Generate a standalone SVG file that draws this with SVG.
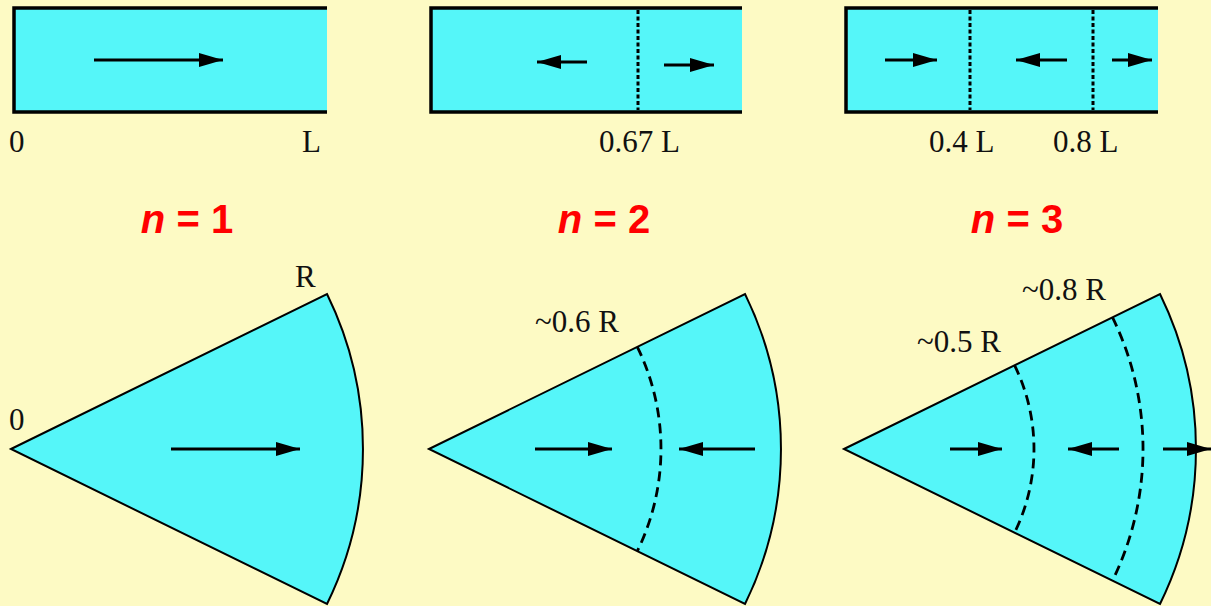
<svg xmlns="http://www.w3.org/2000/svg" width="1211" height="606" viewBox="0 0 1211 606">
<style>
.bg{fill:#FDFAC4}
.fill{fill:#55F6F9;stroke:none}
.edge{fill:none;stroke:#000;stroke-width:3.5;stroke-linecap:butt}
.sect{fill:#55F6F9;stroke:#000;stroke-width:2}
.dot{fill:none;stroke:#000;stroke-width:3;stroke-dasharray:4 2.5}
.dash{fill:none;stroke:#000;stroke-width:2.8;stroke-dasharray:10 6}
.arr{fill:none;stroke:#000;stroke-width:3.2;marker-end:url(#ah)}
.lbl{font-family:"Liberation Serif","Times New Roman",serif;font-size:31px;fill:#111}
.n{font-family:"Liberation Sans",Arial,sans-serif;font-size:40px;font-weight:bold;fill:#FF0000;text-anchor:middle}
</style>
<defs>
<marker id="ah" markerUnits="userSpaceOnUse" markerWidth="26" markerHeight="15" refX="24" refY="7" orient="auto">
<path d="M0,0 L24,7 L0,14 Z" fill="#000"/>
</marker>
</defs>
<rect class="bg" x="0" y="0" width="1211" height="606"/>

<g id="bar1">
<rect class="fill" x="14" y="8" width="313" height="104"/>
<polyline class="edge" points="327,8 14,8 14,112 327,112"/>
<text class="lbl" x="9" y="152">0</text>
<text class="lbl" x="302" y="152">L</text>
</g>

<g id="bar2">
<rect class="fill" x="431" y="8" width="311" height="104"/>
<polyline class="edge" points="742,8 431,8 431,112 742,112"/>
<line class="dot" x1="638" y1="10" x2="638" y2="110"/>
<text class="lbl" x="599" y="152">0.67 L</text>
</g>

<g id="bar3">
<rect class="fill" x="846" y="8" width="312" height="104"/>
<polyline class="edge" points="1158,8 846,8 846,112 1158,112"/>
<line class="dot" x1="970" y1="10" x2="970" y2="110"/>
<line class="dot" x1="1093" y1="10" x2="1093" y2="110"/>
<text class="lbl" x="929" y="152">0.4 L</text>
<text class="lbl" x="1053" y="152">0.8 L</text>
</g>

<g id="labels-n">
<text class="n" x="187" y="233"><tspan font-style="italic">n</tspan> = 1</text>
<text class="n" x="604" y="233"><tspan font-style="italic">n</tspan> = 2</text>
<text class="n" x="1017" y="233"><tspan font-style="italic">n</tspan> = 3</text>
</g>

<g id="sector1">
<path class="sect" d="M11,449 L327,294 A352,352 0 0 1 327,604 Z"/>
<text class="lbl" x="295" y="287">R</text>
<text class="lbl" x="9" y="430">0</text>
</g>

<g id="sector2">
<path class="sect" d="M429,449 L745,294 A352,352 0 0 1 745,604 Z"/>
<path class="dash" d="M637.3,346.9 A232,232 0 0 1 637.3,551.1"/>
<text class="lbl" x="535" y="332">~0.6 R</text>
</g>

<g id="sector3">
<path class="sect" d="M844,449 L1160,294 A352,352 0 0 1 1160,604 Z"/>
<path class="dash" d="M1014.6,365.4 A190,190 0 0 1 1014.6,532.6"/>
<path class="dash" d="M1112.5,317.4 A299,299 0 0 1 1112.5,580.6"/>
<text class="lbl" x="917" y="352">~0.5 R</text>
<text class="lbl" x="1022" y="300">~0.8 R</text>
</g>

<g id="connectors">
<line class="arr" x1="94" y1="60" x2="223" y2="60"/>
<line class="arr" x1="587" y1="62" x2="537" y2="62"/>
<line class="arr" x1="664" y1="65" x2="714" y2="65"/>
<line class="arr" x1="885" y1="60" x2="937" y2="60"/>
<line class="arr" x1="1067" y1="60" x2="1016" y2="60"/>
<line class="arr" x1="1112" y1="60" x2="1152" y2="60"/>
<line class="arr" x1="171" y1="449" x2="300" y2="449"/>
<line class="arr" x1="535" y1="449" x2="612" y2="449"/>
<line class="arr" x1="755" y1="449" x2="679" y2="449"/>
<line class="arr" x1="950" y1="449" x2="1002" y2="449"/>
<line class="arr" x1="1119" y1="449" x2="1068" y2="449"/>
<line class="arr" x1="1163" y1="449" x2="1211" y2="449"/>
</g>
</svg>
